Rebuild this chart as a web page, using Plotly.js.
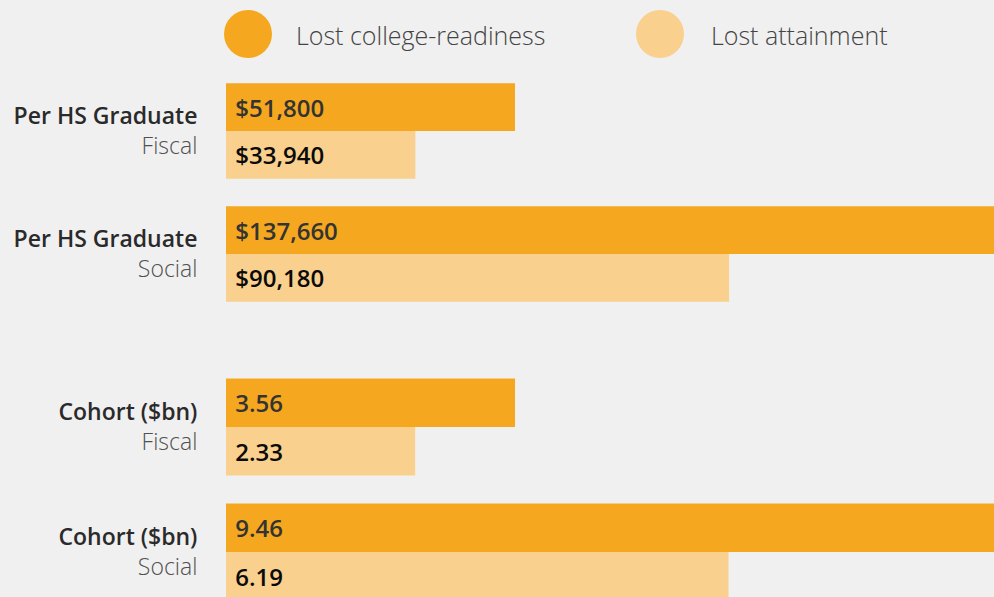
<!DOCTYPE html>
<html><head><meta charset="utf-8">
<script src="https://cdn.plot.ly/plotly-3.0.1.min.js"></script>
<style>html,body{margin:0;padding:0;background:#f0f0f0;}#chart{width:994px;height:597px;}</style>
</head><body><div id="chart"></div>
<script>
// Data
const rowCats = ['Fiscal', 'Social'];
const groupNames = ['Per HS Graduate', 'Cohort ($bn)'];
const seriesNames = ['Lost college-readiness', 'Lost attainment'];
const perGradCollege = [51800, 137660];
const perGradAttain = [33940, 90180];
const cohortCollege = [3.56, 9.46];
const cohortAttain = [2.33, 6.19];

const darkC = '#F5A81F', lightC = '#F9D08D';
const FONT = '"Open Sans", "Noto Sans", sans-serif';
const pad = '\u00A0';

function mkTrace(vals, name, color, txtColor, xa, ya, tmpl, show) {
  return {
    type: 'bar', orientation: 'h', x: vals, y: rowCats, name: name,
    xaxis: xa, yaxis: ya, marker: {color: color, line: {width: 0}},
    texttemplate: pad + tmpl, textposition: 'inside', insidetextanchor: 'start',
    textangle: 0, constraintext: 'none',
    insidetextfont: {family: FONT, size: 24, color: txtColor, weight: 600},
    showlegend: show, hoverinfo: 'x'
  };
}
const traces = [
  mkTrace(perGradCollege, seriesNames[0], darkC, '#333333', 'x', 'y', '$%{x:,}', false),
  mkTrace(perGradAttain, seriesNames[1], lightC, '#0a0a0a', 'x', 'y', '$%{x:,}', false),
  mkTrace(cohortCollege, seriesNames[0], darkC, '#333333', 'x2', 'y2', '%{x:.2f}', false),
  mkTrace(cohortAttain, seriesNames[1], lightC, '#0a0a0a', 'x2', 'y2', '%{x:.2f}', false)
];

function tickText(g) {
  return rowCats.map(c => '<span style="font-weight:600">' + g + '</span><br><span style="color:#505050;font-weight:300">' + c + '</span>');
}
const yCommon = {
  type: 'category', showgrid: false, zeroline: false, showline: false,
  ticks: 'outside', ticklen: 23, tickcolor: 'rgba(0,0,0,0)',
  tickfont: {family: FONT, size: 23, color: '#2a2a2a'}, automargin: false,
  tickvals: rowCats
};
const xCommon = {showgrid: false, zeroline: false, showline: false, showticklabels: false, fixedrange: true};

const layout = {
  width: 994, height: 597,
  paper_bgcolor: '#f0f0f0', plot_bgcolor: '#f0f0f0',
  margin: {l: 0, r: 0, t: 0, b: 0},
  barmode: 'group', bargap: 0.225, bargroupgap: 0,
  showlegend: false,
  xaxis: Object.assign({}, xCommon, {domain: [226/994, 1], range: [0, 137660], anchor: 'y'}),
  xaxis2: Object.assign({}, xCommon, {domain: [226/994, 1], range: [0, 9.46], anchor: 'y2'}),
  yaxis: Object.assign({}, yCommon, {domain: [1 - 315.5/597, 1 - 69.5/597], range: [1.5, -0.5], anchor: 'x', ticktext: tickText(groupNames[0])}),
  yaxis2: Object.assign({}, yCommon, {domain: [0, 1 - 364.5/597], range: [1.36, -0.5], anchor: 'x2', ticktext: tickText(groupNames[1])}),
  shapes: [
    {type: 'circle', xref: 'paper', yref: 'paper', x0: 224/994, x1: 272/994, y0: 1 - 58/597, y1: 1 - 10/597, fillcolor: darkC, line: {width: 0}},
    {type: 'circle', xref: 'paper', yref: 'paper', x0: 636/994, x1: 684/994, y0: 1 - 58/597, y1: 1 - 10/597, fillcolor: lightC, line: {width: 0}}
  ],
  annotations: [
    {xref: 'paper', yref: 'paper', x: 294/994, y: 1 - 35/597, xanchor: 'left', yanchor: 'middle', showarrow: false, text: seriesNames[0], font: {family: FONT, size: 25, color: '#444444', weight: 300}},
    {xref: 'paper', yref: 'paper', x: 709/994, y: 1 - 35/597, xanchor: 'left', yanchor: 'middle', showarrow: false, text: seriesNames[1], font: {family: FONT, size: 25, color: '#444444', weight: 300}}
  ]
};
Plotly.newPlot('chart', traces, layout, {displayModeBar: false, staticPlot: true});
</script></body></html>
